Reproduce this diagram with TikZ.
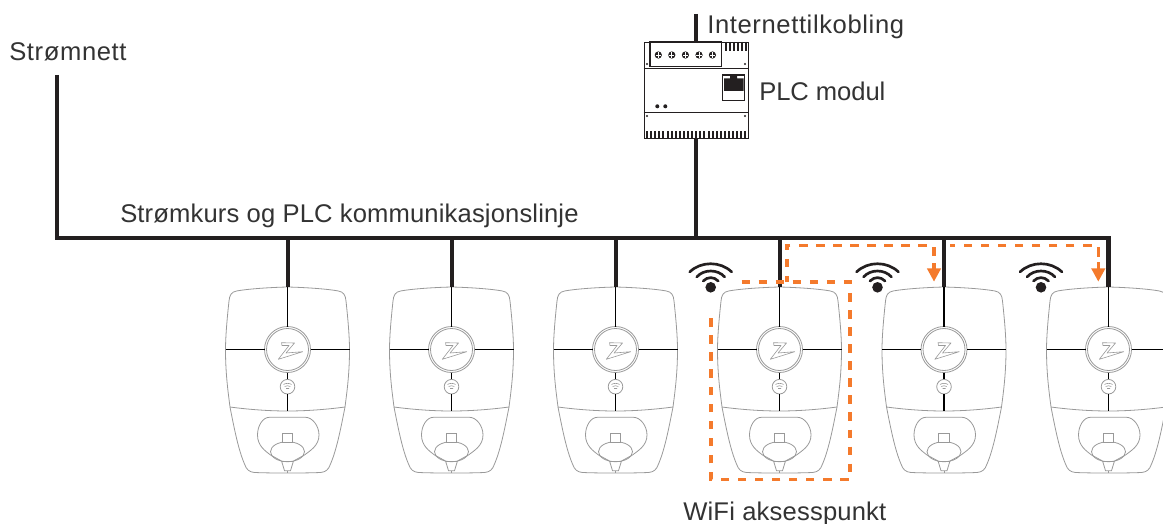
\documentclass[tikz,border=0pt]{standalone}
\usepackage{fontspec}
\setmainfont{Liberation Sans}
\usetikzlibrary{arrows.meta}
\definecolor{ink}{HTML}{231F20}
\definecolor{txt}{HTML}{333333}
\definecolor{zap}{HTML}{F47A2C}
\definecolor{shell}{HTML}{999999}
\tikzset{
  x=0.75pt,y=-0.75pt,
  label text/.style={font=\fontsize{19.2pt}{21pt}\selectfont,text=txt,inner sep=0pt,anchor=base west},
  power/.style={draw=ink,line width=3.2pt},
  feed/.style={draw=ink,line width=3pt},
  zapline/.style={draw=zap,line width=2.4pt,dash pattern=on 6.4pt off 6.4pt},
  zapsolid/.style={draw=zap,line width=2.4pt},
  zaparrow/.style={zapsolid,-{Triangle[length=10pt,width=10pt,fill=zap]}},
  shellline/.style={draw=shell,line width=0.6pt},
  cross/.style={draw=black,line width=1pt},
  wave/.style={draw=ink,line width=2pt,line cap=round},
  mod/.style={draw=ink,line width=0.9pt},
  charger/.pic={
    \draw[shellline] (0,287) .. controls (-20,287.5) and (-40,289) .. (-51,291)
      .. controls (-56,292) and (-58,295) .. (-58.5,301)
      .. controls (-60,315) and (-62,335) .. (-62,350)
      .. controls (-62,375) and (-59,395) .. (-57.5,407)
      .. controls (-53,430) and (-49,450) .. (-43,464)
      .. controls (-41,470) and (-38,472) .. (-33,472.5)
      .. controls (-20,473) and (-10,473) .. (0,473)
      .. controls (10,473) and (20,473) .. (33,472.5)
      .. controls (38,472) and (41,470) .. (43,464)
      .. controls (49,450) and (53,430) .. (57.5,407)
      .. controls (59,395) and (62,375) .. (62,350)
      .. controls (62,335) and (60,315) .. (58.5,301)
      .. controls (58,295) and (56,292) .. (51,291)
      .. controls (40,289) and (20,287.5) .. (0,287);
    \draw[shellline] (-57.5,407) .. controls (-35,410) and (-15,411) .. (0,411)
      .. controls (15,411) and (35,410) .. (57.5,407);
    \draw[shellline] (0,349.5) circle[radius=23];
    \draw[shellline] (0,349.5) circle[radius=21];
    \draw[shellline] (0,386.7) circle[radius=7.3];
    \draw[shell,line width=0.45pt] (-4,384.5) .. controls (-2,383) and (2,383) .. (4,384.5)
      (-2.8,386.5) .. controls (-1.5,385.5) and (1.5,385.5) .. (2.8,386.5)
      (-1.5,388.5) .. controls (-0.7,387.8) and (0.7,387.8) .. (1.5,388.5);
    \draw[cross] (0,287) -- (0,326.5) (-62,349.5) -- (-23,349.5) (23,349.5) -- (62,349.5)
      (0,372.5) -- (0,379.4) (0,394) -- (0,411);
    \draw[shell,line width=0.45pt,line join=round] (-6,342.7) -- (7,343) -- (-1.5,353) -- (15.2,351.7)
      -- (-9.2,359.3) -- (1.5,345.5) -- (-5.5,345.5) -- cycle;
    \draw[shellline] (-18,417.3) -- (18,417.3) .. controls (25,417.3) and (31.5,426) .. (31.5,435)
      .. controls (31.5,446) and (22,451) .. (17,455) -- (6,461)
      (-6,461) -- (-17,455) .. controls (-22,451) and (-30,446) .. (-30,435)
      .. controls (-30,426) and (-25,417.3) .. (-18,417.3);
    \draw[shellline] (0,451.7) ellipse[x radius=17,y radius=10];
    \draw[shellline,fill=white] (-5.3,433.3) rectangle (5.3,442.7);
    \draw[shellline] (-5.8,461.5) -- (5.8,461.5) -- (3,470.7) -- (-3,470.7) -- cycle;
    \draw[shellline] (0,470.7) -- (0,473);
  },
  signal/.pic={
    \fill[ink] (0,287.3) circle[radius=5.3];
    \draw[wave] (-21,272) .. controls (-10,261) and (10,261) .. (21,272);
    \draw[wave] (-14,277) .. controls (-7,269) and (7,269) .. (14,277);
    \draw[wave] (-7.5,281) .. controls (-3,276.5) and (3,276.5) .. (7.5,281);
  },
}
\begin{document}
\begin{tikzpicture}
\useasboundingbox (0,0) rectangle (1163,524);

% anchor points
\coordinate (gridtop) at (57,75);
\coordinate (busL) at (57,238);
\coordinate (nettop) at (695.5,14);
\coordinate (plcjoin) at (695.5,238);
\foreach \n/\x in {a/287.5,b/451.5,c/615.5,d/779.5,e/944,f/1108.5}{
  \pic at (\x,0) {charger};
  \coordinate (\n) at (\x,287);
}
\pic at (710.7,0) {signal};
\pic at (877.5,0) {signal};
\pic at (1041,0) {signal};

% PLC module
\node[mod,fill=white,minimum width=78pt,minimum height=72.2pt,inner sep=0pt,anchor=north west] (plc) at (643.5,42) {};
\draw[mod] (643.5,68.3) -- (747.5,68.3) (643.5,112.3) -- (747.5,112.3);
\draw[mod] (650,42) rectangle (721.7,66.5);
\foreach \x in {658.3,671.8,685.4,699,712.4}{
  \fill[ink] (\x,55) circle[radius=3.6];
  \draw[white,line width=0.7pt] (\x,52.4) -- (\x,57.6) (\x-2.6,55) -- (\x+2.6,55);
}
\foreach \x in {726,730,734,738,742,745.5}{\draw[ink,line width=1.5pt] (\x,42) -- (\x,51.5);}
\foreach \i in {0,...,24}{\draw[ink,line width=1.5pt] (647+4.1*\i,131.5) -- (647+4.1*\i,138);}
\foreach \x/\y in {647/64,745/64,647/116,745/116}{\fill[ink] (\x,\y) circle[radius=1.1];}
\fill[ink] (657.3,106.3) circle[radius=2];
\fill[ink] (665.3,106.3) circle[radius=2];
\draw[mod] (722.5,75) rectangle (744.5,100.7);
\fill[ink] (724,90.8) -- (724,78.5) -- (730,78.5) -- (730,76) -- (737,76) -- (737,78.5) -- (743.5,78.5) -- (743.5,90.8) -- cycle;

% power
\draw[power] (gridtop) -- (busL) -- (busL -| f) -- (f);
\draw[feed] (nettop) -- (plc.north -| nettop);
\draw[feed] (plc.south -| plcjoin) -- (plcjoin);
\foreach \n in {a,b,c,d,e}{\draw[feed] (\n |- busL) -- (\n);}

% orange dashes
\coordinate (hopA) at (787,245.3);
\coordinate (hopB) at (934,245.3);
\coordinate (hopD) at (950,245.3);
\coordinate (hopC) at (1098.3,245.3);
\coordinate (boxTL) at (711,282);
\coordinate (boxBR) at (850,479.3);
\draw[zapline] (741.5,282) -- (boxBR |- boxTL) -- (boxBR) -- (boxTL |- boxBR) -- (711,310);
\draw[zapline] (927,245.3) -- (hopA) -- (hopA |- boxTL);
\draw[zapsolid] (934,247) -- (934,255.5);
\draw[zaparrow] (934,263) -- (934,281.7);
\draw[zapline] (1091.5,245.3) -- (hopD);
\draw[zapsolid] (hopC) ++(0,2) -- (1098.3,257);
\draw[zaparrow] (1098.3,262) -- (1098.3,281.7);

% labels
\node[label text] (grid) at (9,60.5) {\addfontfeature{LetterSpace=2.4}Strømnett};
\node[label text] (net) at (707,34) {\addfontfeature{LetterSpace=2.4}Internettilkobling};
\node[label text] (plcl) at (759,100.5) {\addfontfeature{LetterSpace=-0.3}PLC modul};
\node[label text] (bus) at (120,222) {\addfontfeature{LetterSpace=0.55}Strømkurs og PLC kommunikasjonslinje};
\node[label text] (ap) at (683,520) {\addfontfeature{LetterSpace=0.7}WiFi aksesspunkt};
\end{tikzpicture}
\end{document}
